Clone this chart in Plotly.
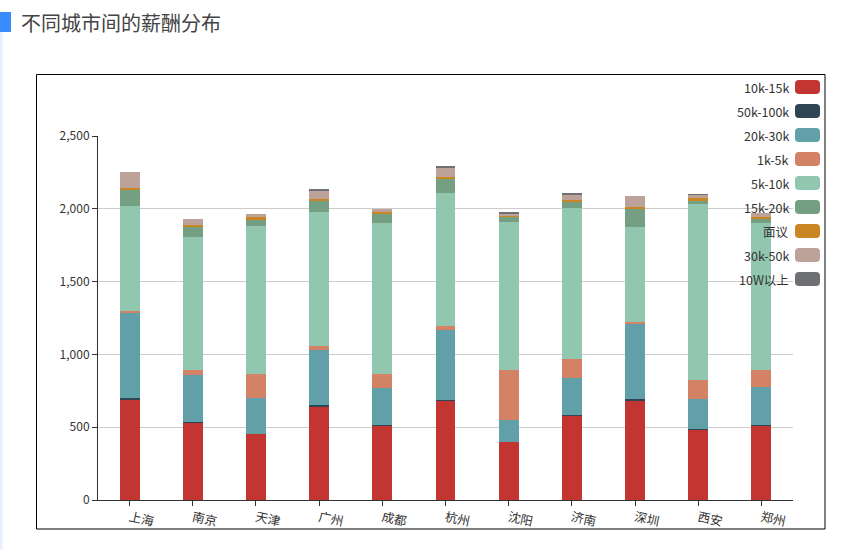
import plotly.graph_objects as go

cities = ["上海", "南京", "天津", "广州", "成都", "杭州", "沈阳", "济南", "深圳", "西安", "郑州"]
series_names = ["10k-15k", "50k-100k", "20k-30k", "1k-5k", "5k-10k", "15k-20k", "面议", "30k-50k", "10W以上"]
s_10k_15k = [685, 534, 455, 639, 513, 680, 396, 582, 680, 481, 513]
s_50k_100k = [18, 3, 0, 16, 4, 9, 0, 3, 16, 9, 3]
s_20k_30k = [583, 319, 243, 377, 254, 479, 153, 251, 513, 206, 262]
s_1k_5k = [12, 35, 169, 28, 96, 25, 344, 135, 14, 130, 115]
s_5k_10k = [721, 915, 1017, 918, 1035, 914, 1016, 1037, 654, 1207, 1007]
s_15k_20k = [110, 71, 37, 82, 64, 100, 35, 41, 120, 27, 35]
s_mianyi = [14, 12, 25, 9, 10, 14, 9, 9, 15, 12, 7]
s_30k_50k = [112, 39, 18, 58, 21, 61, 16, 37, 74, 25, 29]
s_10w = [0, 0, 0, 3, 0, 12, 4, 9, 0, 3, 0]
y_ticks = [0, 500, 1000, 1500, 2000, 2500]
title_text = "不同城市间的薪酬分布"

series_values = [s_10k_15k, s_50k_100k, s_20k_30k, s_1k_5k, s_5k_10k,
                 s_15k_20k, s_mianyi, s_30k_50k, s_10w]
colors = ["#c23531", "#2f4554", "#61a0a8", "#d48265", "#91c7ae",
          "#749f83", "#ca8622", "#bda29a", "#6e7074"]

FONT = "Noto Sans CJK SC, Microsoft YaHei, sans-serif"
W, H = 858, 550
L, R, T, B = 98, 65, 136, 50
PW, PH = W - L - R, H - T - B


def px(x):
    return (x - L) / PW


def py(y):
    return (H - B - y) / PH


fig = go.Figure()
for name, vals, col in zip(series_names, series_values, colors):
    fig.add_trace(go.Bar(
        x=cities, y=vals, name=name, marker=dict(color=col, line=dict(width=0)),
        showlegend=False,
    ))

shapes = []
annotations = []

# outer border box
shapes.append(dict(type="rect", xref="paper", yref="paper",
                   x0=px(36.5), x1=px(825), y0=py(529), y1=py(74.5),
                   line=dict(color="#000", width=1), fillcolor="rgba(0,0,0,0)", layer="above"))
# title marker and left strip
shapes.append(dict(type="rect", xref="paper", yref="paper",
                   x0=px(0), x1=px(11), y0=py(32), y1=py(12),
                   line=dict(width=0), fillcolor="#3a8bfb"))
shapes.append(dict(type="rect", xref="paper", yref="paper",
                   x0=px(0), x1=px(2.5), y0=py(550), y1=py(32),
                   line=dict(width=0), fillcolor="#e6effc"))

annotations.append(dict(text=title_text, xref="paper", yref="paper",
                        x=px(19), y=py(22), xanchor="left", yanchor="middle",
                        showarrow=False, font=dict(family=FONT, size=20, color="#444")))

# legend (ECharts style: text left of swatch)
for i, (name, col) in enumerate(zip(series_names, colors)):
    cy = 87 + 24 * i
    x0, x1 = 795, 820
    y0, y1 = cy - 7, cy + 7
    r = 4
    path = (f"M {px(x0 + r)},{py(y0)} L {px(x1 - r)},{py(y0)} Q {px(x1)},{py(y0)} {px(x1)},{py(y0 + r)} "
            f"L {px(x1)},{py(y1 - r)} Q {px(x1)},{py(y1)} {px(x1 - r)},{py(y1)} "
            f"L {px(x0 + r)},{py(y1)} Q {px(x0)},{py(y1)} {px(x0)},{py(y1 - r)} "
            f"L {px(x0)},{py(y0 + r)} Q {px(x0)},{py(y0)} {px(x0 + r)},{py(y0)} Z")
    shapes.append(dict(type="path", xref="paper", yref="paper", path=path,
                       fillcolor=col, line=dict(width=0), layer="above"))
    annotations.append(dict(text=name, xref="paper", yref="paper",
                            x=px(791), y=py(cy), xanchor="right", yanchor="middle",
                            showarrow=False, font=dict(family=FONT, size=12.5, color="#333")))

fig.update_layout(
    width=W, height=H,
    margin=dict(l=L, r=R, t=T, b=B, pad=0),
    paper_bgcolor="white", plot_bgcolor="white",
    barmode="stack", bargap=0.684,
    font=dict(family=FONT, size=12, color="#333"),
    shapes=shapes, annotations=annotations,
    showlegend=False,
    xaxis=dict(
        type="category", showgrid=False, showline=True, linecolor="#333", linewidth=1,
        ticks="outside", ticklen=5, tickcolor="#333", tickangle=12,
        tickfont=dict(family=FONT, size=12.5, color="#333"), zeroline=False,
    ),
    yaxis=dict(
        range=[0, 2500], tickvals=y_ticks, tickformat=",d",
        showgrid=True, gridcolor="#ccc", gridwidth=1,
        showline=True, linecolor="#333", linewidth=1,
        ticks="outside", ticklen=5, tickcolor="#333",
        tickfont=dict(family=FONT, size=12, color="#333"), zeroline=False,
    ),
)

fig.write_html("out.html")
